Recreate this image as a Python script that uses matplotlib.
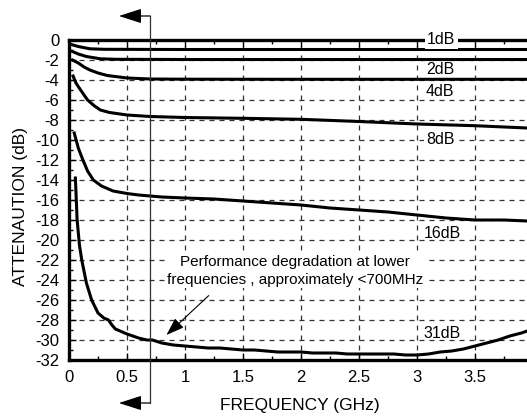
import matplotlib
matplotlib.use("Agg")
import matplotlib.pyplot as plt
from matplotlib.ticker import MultipleLocator

plt.rcParams['font.family'] = ['Liberation Sans', 'DejaVu Sans']

freq_1 = [0.02, 0.08, 0.18, 0.3, 1.0, 2.0, 3.0, 3.95]
att_1 = [-0.45, -0.65, -0.88, -0.93, -0.95, -0.95, -0.95, -0.95]

freq_2 = [0.03, 0.08, 0.15, 0.27, 0.4, 1.0, 2.0, 3.0, 3.95]
att_2 = [-1.15, -1.4, -1.65, -1.88, -1.93, -1.95, -1.95, -1.95, -1.95]

freq_4 = [0.03, 0.08, 0.13, 0.18, 0.25, 0.33, 0.5, 0.7, 1.0, 2.0, 3.0, 3.95]
att_4 = [-2.0, -2.3, -2.7, -3.0, -3.3, -3.55, -3.8, -3.9, -3.92, -3.93, -3.93, -3.93]

freq_8 = [0.035, 0.06, 0.1, 0.16, 0.22, 0.27, 0.35, 0.5, 0.7, 1.0, 1.5, 2.0, 2.5, 3.0, 3.5, 3.95]
att_8 = [-3.6, -4.3, -5.0, -6.0, -6.6, -7.0, -7.25, -7.5, -7.65, -7.75, -7.83, -7.93, -8.15, -8.4, -8.57, -8.8]

freq_16 = [0.045, 0.08, 0.12, 0.16, 0.21, 0.28, 0.38, 0.5, 0.6, 0.8, 1.0, 1.25, 1.5, 1.75,
           2.0, 2.25, 2.5, 2.75, 3.0, 3.25, 3.5, 3.75, 3.95]
att_16 = [-9.3, -10.8, -12.0, -13.1, -14.0, -14.6, -15.1, -15.35, -15.5, -15.7, -15.8, -15.9,
          -16.1, -16.3, -16.5, -16.8, -17.0, -17.2, -17.5, -17.8, -18.0, -18.0, -18.1]

freq_31 = [0.055, 0.07, 0.09, 0.11, 0.15, 0.195, 0.25, 0.3, 0.34, 0.37, 0.4, 0.5, 0.6, 0.67,
           0.72, 0.8, 0.9, 1.0, 1.1, 1.2, 1.3, 1.4, 1.5, 1.6, 1.7, 1.8, 1.9, 2.0, 2.1, 2.2,
           2.3, 2.4, 2.5, 2.6, 2.7, 2.8, 2.9, 3.0, 3.1, 3.2, 3.3, 3.4, 3.5, 3.6, 3.7, 3.8,
           3.9, 3.95]
att_31 = [-13.8, -18.0, -20.5, -22.0, -24.3, -26.0, -27.3, -27.8, -28.0, -28.5, -28.9, -29.4,
          -29.8, -30.0, -30.0, -30.3, -30.5, -30.6, -30.7, -30.8, -30.8, -30.9, -31.0, -31.0,
          -31.1, -31.2, -31.2, -31.2, -31.3, -31.3, -31.3, -31.4, -31.4, -31.4, -31.4, -31.4,
          -31.5, -31.5, -31.4, -31.2, -31.1, -30.9, -30.6, -30.3, -30.0, -29.6, -29.3, -29.1]

curve_labels = ["1dB", "2dB", "4dB", "8dB", "16dB", "31dB"]
label_x = [3.21, 3.2, 3.2, 3.2, 3.22, 3.22]
label_y = [0.1, -2.9, -5.1, -9.9, -19.3, -29.3]
label_bg = [True, False, False, True, False, False]

xticks = [0, 0.5, 1, 1.5, 2, 2.5, 3, 3.5]
xtick_labels = ["0", "0.5", "1", "1.5", "2", "2.5", "3", "3.5"]
yticks = list(range(0, -33, -2))

cutoff_ghz = 0.7

fig = plt.figure(figsize=(5.27, 4.17), dpi=100)
ax = fig.add_axes([69/527, 57/417, (533-69)/527, 320/417])

lw = 2.2
for fx, ay in [(freq_1, att_1), (freq_2, att_2), (freq_4, att_4), (freq_8, att_8),
               (freq_16, att_16), (freq_31, att_31)]:
    ax.plot(fx, ay, color='black', lw=lw, solid_joinstyle='round', zorder=3)

ax.set_xlim(0, 4)
ax.set_ylim(-32, 0)
ax.set_xticks(xticks)
ax.set_xticklabels(xtick_labels)
ax.set_yticks(yticks)
ax.set_yticklabels([str(v) for v in yticks])
ax.xaxis.set_minor_locator(MultipleLocator(0.25))
ax.yaxis.set_minor_locator(MultipleLocator(1))
ax.tick_params(which='both', direction='in', top=True, right=False, labelsize=12)
ax.tick_params(axis='x', pad=7)
ax.tick_params(axis='y', pad=7)
ax.tick_params(which='major', length=5, width=1)
ax.tick_params(which='minor', length=3, width=1)
ax.grid(True, which='major', color='#333333', linestyle=(0, (4, 4)), lw=0.9)
for s in ['left', 'bottom', 'top']:
    ax.spines[s].set_linewidth(2.4)
ax.spines['right'].set_visible(False)

for t, x, y, bg in zip(curve_labels, label_x, label_y, label_bg):
    kw = {}
    if bg:
        kw['bbox'] = dict(facecolor='white', edgecolor='none', pad=1.5)
    ax.text(x, y, t, ha='center', va='center', fontsize=11.5, zorder=4, **kw)

ax.annotate("Performance degradation at lower\nfrequencies , approximately <700MHz",
            xy=(0.84, -29.5), xytext=(1.95, -23.1), ha='center', va='center',
            fontsize=11, linespacing=1.3, zorder=5,
            bbox=dict(facecolor='white', edgecolor='none', pad=1),
            arrowprops=dict(arrowstyle='-|>,head_length=1.0,head_width=0.35', color='black',
                            lw=0.8, shrinkA=8, shrinkB=0, relpos=(0.2, 0.0)))

# cutoff marker line with arrows
ax.plot([cutoff_ghz, cutoff_ghz], [2.4, -36.3], color='#333333', lw=0.9, clip_on=False, zorder=5)
for yy in [2.4, -36.3]:
    ax.annotate("", xy=(0.43, yy), xytext=(cutoff_ghz, yy), annotation_clip=False,
                arrowprops=dict(arrowstyle='-|>,head_length=1.4,head_width=0.45', color='black',
                                lw=0.9, shrinkA=0, shrinkB=0))

ax.set_xlabel("FREQUENCY (GHz)", fontsize=12.5)
ax.xaxis.set_label_coords((300-69)/464, -(398-360)/320)
ax.set_ylabel("ATTENAUTION (dB)", fontsize=12.5)
ax.yaxis.set_label_coords(-(69-28)/464, (360-206)/320)

fig.savefig("out.png", dpi=100)
